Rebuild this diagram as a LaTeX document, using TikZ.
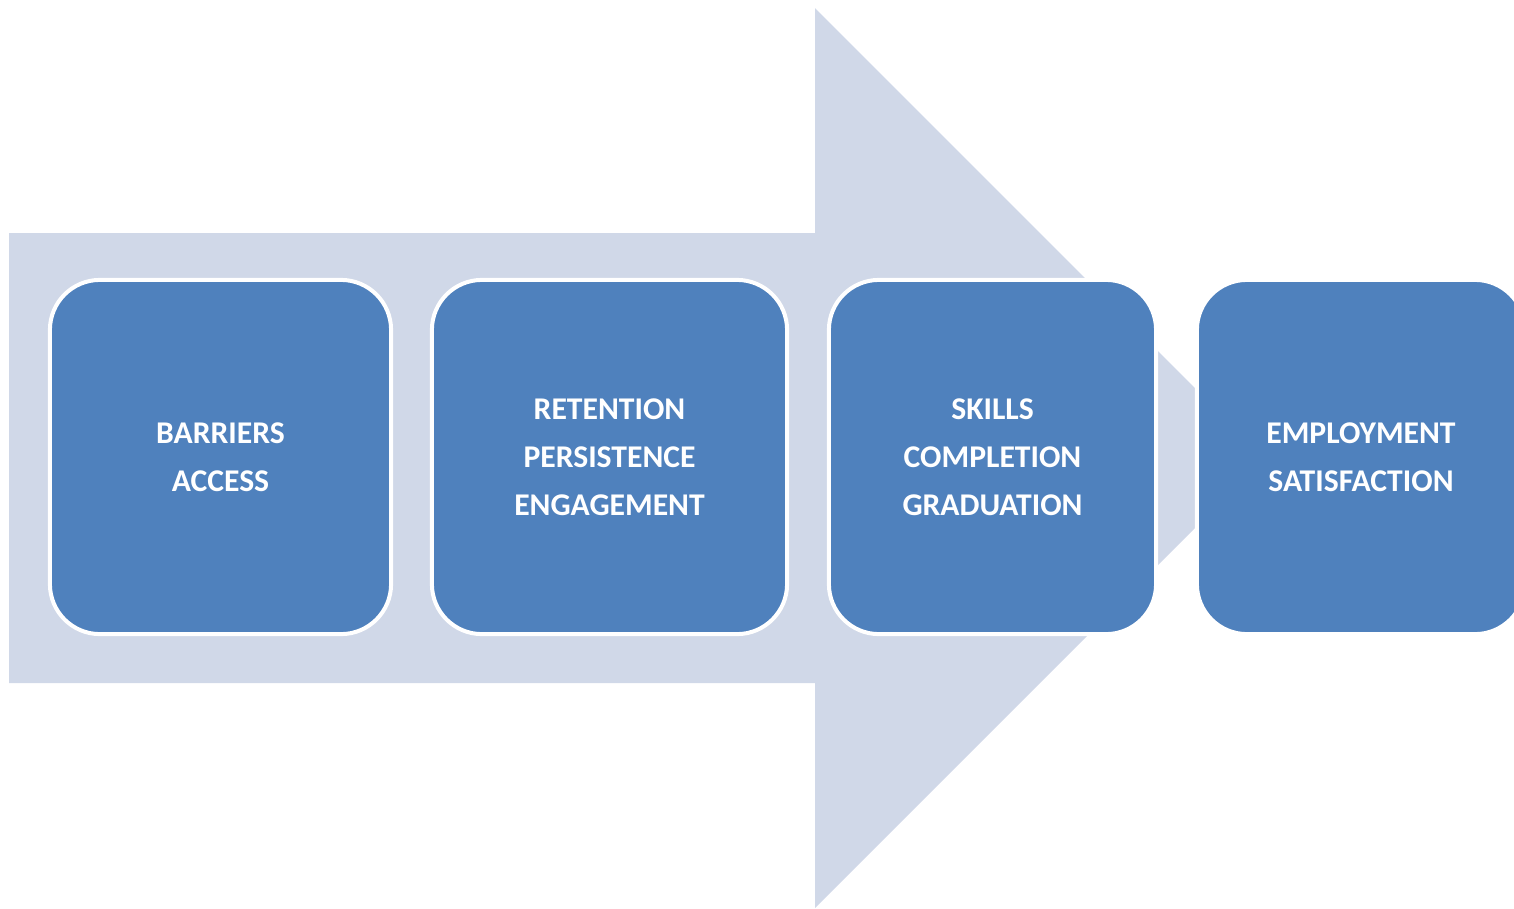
\documentclass[tikz,border=0pt]{standalone}
\usepackage{fontspec}
\setmainfont{Carlito}
\definecolor{arrowgray}{HTML}{D0D8E8}
\definecolor{stageblue}{HTML}{4F81BD}

\begin{document}
\begin{tikzpicture}[x=0.01cm,y=-0.01cm,
    stage/.style={draw=white, line width=0.04cm, fill=stageblue, rounded corners=0.5cm,
        minimum height=3.54cm, align=center, text=white,
        font=\fontsize{9}{13.6}\selectfont\bfseries}]
    \useasboundingbox (0,0) rectangle (1514,908);
    \clip (0,0) rectangle (1514,908);
    % big arrow behind the stages
    \fill[arrowgray] (9,233) -- (815,233) -- (815,8) -- (1265,458) -- (815,908) -- (815,683) -- (9,683) -- cycle;

    \node[stage, minimum width=3.41cm] (barriers) at (220.5,457) {BARRIERS\\ACCESS};
    \node[stage, minimum width=3.55cm] (retention) at (609.5,457) {RETENTION\\PERSISTENCE\\ENGAGEMENT};
    \node[stage, minimum width=3.27cm] (skills) at (992.5,457) {SKILLS\\COMPLETION\\GRADUATION};
    \node[stage, minimum width=3.28cm] (employment) at (1361,457) {EMPLOYMENT\\SATISFACTION};
\end{tikzpicture}
\end{document}
